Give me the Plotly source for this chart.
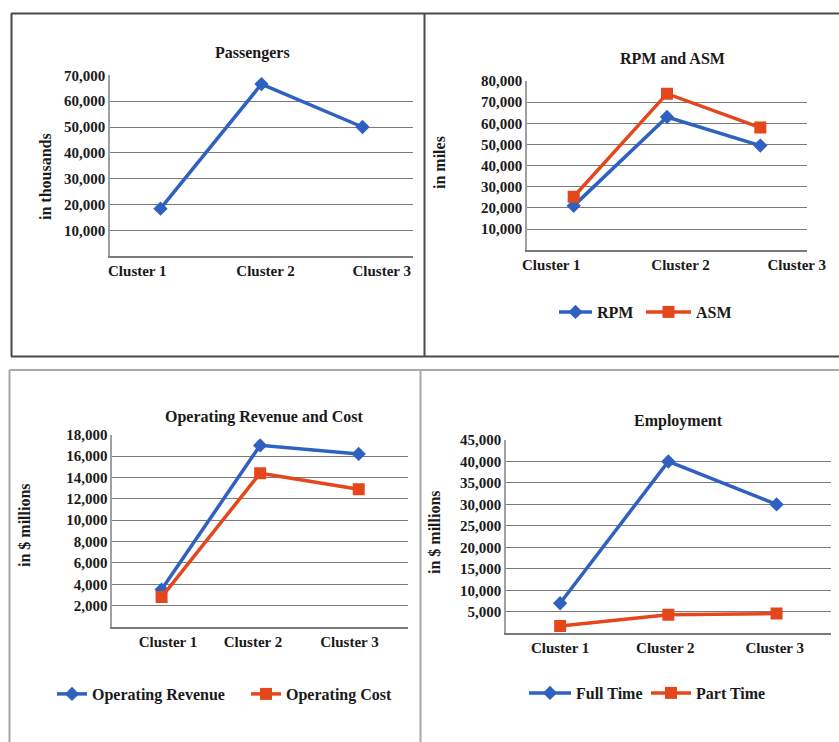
import plotly.graph_objects as go

# Page size in px; every panel is laid out in paper fractions of it
W, H = 839, 742

clusters = ["Cluster 1", "Cluster 2", "Cluster 3"]
cluster_pos = [0, 1, 2]

# Passengers (in thousands)
passengers = [18400, 66600, 50000]
passenger_ticks = [10000, 20000, 30000, 40000, 50000, 60000, 70000]

# Revenue passenger miles and available seat miles (in miles)
rpm = [21000, 63000, 49500]
asm = [25300, 74000, 58000]
miles_ticks = [10000, 20000, 30000, 40000, 50000, 60000, 70000, 80000]

# Operating revenue and cost (in $ millions)
op_revenue = [3500, 17000, 16200]
op_cost = [2800, 14400, 12900]
money_ticks = [2000, 4000, 6000, 8000, 10000, 12000, 14000, 16000, 18000]

# Employment
full_time = [7000, 40000, 30000]
part_time = [1700, 4300, 4600]
staff_ticks = [5000, 10000, 15000, 20000, 25000, 30000, 35000, 40000, 45000]

BLUE = "#2e61c0"
RED = "#e5471d"
SERIF = "Liberation Serif"
GRID = "#7a7a7a"


def px_x(x):
    return x / W


def px_y(y):
    return 1 - y / H


def font(size, color="#1a1a1a"):
    return dict(family=SERIF, size=size, color=color, weight="bold")


fig = go.Figure()

# panel: (axis suffix, x px span, y px span (top, bottom), y max, y ticks, label slots)
panels = [
    ("", (110, 413), (75.3, 256.3), 70000, passenger_ticks, [-0.23, 1.04, 2.19]),
    ("2", (527, 807), (81, 250.3), 80000, miles_ticks, [-0.24, 1.145, 2.39]),
    ("3", (112.3, 408), (434.7, 627), 18000, money_ticks, [0.065, 0.927, 1.906]),
    ("4", (506, 830.7), (440, 633.3), 45000, staff_ticks, [0.0, 0.972, 1.983]),
]

for suffix, (x0, x1), (ytop, ybot), ymax, yticks, slots in panels:
    fig.layout["xaxis" + suffix] = dict(
        domain=[px_x(x0), px_x(x1)],
        range=[-0.5, 2.5],
        anchor="y" + suffix,
        tickvals=slots,
        ticktext=clusters,
        tickfont=font(15),
        showgrid=False,
        zeroline=False,
        showline=True,
        linecolor=GRID,
        linewidth=1.5,
        ticks="",
        automargin=False,
        fixedrange=True,
    )
    fig.layout["yaxis" + suffix] = dict(
        domain=[px_y(ybot), px_y(ytop)],
        range=[0, ymax],
        anchor="x" + suffix,
        tickvals=yticks,
        tickformat=",d",
        tickfont=font(15),
        showgrid=True,
        gridcolor=GRID,
        gridwidth=1,
        zeroline=False,
        showline=True,
        linecolor="#a0a0a0",
        linewidth=1.5,
        ticks="",
        automargin=False,
        fixedrange=True,
    )

diamond = dict(symbol="diamond", size=11, color=BLUE)
square = dict(symbol="square", size=12, color=RED)

series = [
    ("Passengers", passengers, "", BLUE, diamond, None),
    ("RPM", rpm, "2", BLUE, diamond, "legend"),
    ("ASM", asm, "2", RED, square, "legend2"),
    ("Operating Revenue", op_revenue, "3", BLUE, diamond, "legend3"),
    ("Operating Cost", op_cost, "3", RED, square, "legend4"),
    ("Full Time", full_time, "4", BLUE, diamond, "legend5"),
    ("Part Time", part_time, "4", RED, square, "legend6"),
]

for name, values, suffix, color, marker, legend in series:
    fig.add_trace(go.Scatter(
        x=cluster_pos, y=values, name=name,
        mode="lines+markers",
        line=dict(color=color, width=3.5),
        marker=marker,
        xaxis="x" + suffix, yaxis="y" + suffix,
        showlegend=legend is not None,
        legend=legend or "legend",
        hoverinfo="skip",
    ))

# One legend box per entry: (legend key, line start px, row y px, symbol width)
legend_slots = [
    ("legend", 559, 312, 33),
    ("legend2", 646, 312, 45),
    ("legend3", 57, 694, 30),
    ("legend4", 251, 694, 30),
    ("legend5", 529, 693, 42),
    ("legend6", 651, 693, 40),
]
for key, lx, ly, iw in legend_slots:
    fig.layout[key] = dict(
        x=px_x(lx - 5), y=px_y(ly),
        xref="container", yref="container",
        xanchor="left", yanchor="middle",
        orientation="h",
        bgcolor="rgba(0,0,0,0)", borderwidth=0,
        font=font(16),
        itemwidth=iw,
        itemclick=False, itemdoubleclick=False,
    )

# Chart titles and value-axis captions
titles = [
    ("Passengers", 252, 53),
    ("RPM and ASM", 672, 58),
    ("Operating Revenue and Cost", 264, 417),
    ("Employment", 678, 421),
]
for text, cx, cy in titles:
    fig.add_annotation(text=text, x=px_x(cx), y=px_y(cy), xref="paper", yref="paper",
                       showarrow=False, font=font(16), xanchor="center", yanchor="middle")

captions = [
    ("in thousands", 45, 177),
    ("in miles", 439, 163),
    ("in $ millions", 24, 525),
    ("in $ millions", 434, 532),
]
for text, cx, cy in captions:
    fig.add_annotation(text=text, x=px_x(cx), y=px_y(cy), xref="paper", yref="paper",
                       showarrow=False, font=font(16), textangle=-90,
                       xanchor="center", yanchor="middle")

# Table-style frames around the four panels
def frame_line(x0, y0, x1, y1, color):
    fig.add_shape(type="line", xref="paper", yref="paper",
                  x0=px_x(x0), y0=px_y(y0), x1=px_x(x1), y1=px_y(y1),
                  line=dict(color=color, width=2))

DARK, LIGHT = "#4a4a4a", "#a8a8a8"
frame_line(11, 13.5, 839, 13.5, DARK)
frame_line(11, 356.5, 839, 356.5, DARK)
frame_line(11.5, 13.5, 11.5, 356.5, DARK)
frame_line(424.5, 13.5, 424.5, 356.5, DARK)
frame_line(9.5, 370, 839, 370, LIGHT)
frame_line(9.5, 370, 9.5, 742, LIGHT)
frame_line(420.5, 370, 420.5, 742, LIGHT)

fig.update_layout(
    width=W, height=H,
    autosize=False,
    margin=dict(l=0, r=0, t=0, b=0, pad=0, autoexpand=False),
    paper_bgcolor="white",
    plot_bgcolor="white",
    hovermode=False,
)

fig.write_html("out.html", config={"displayModeBar": False})
